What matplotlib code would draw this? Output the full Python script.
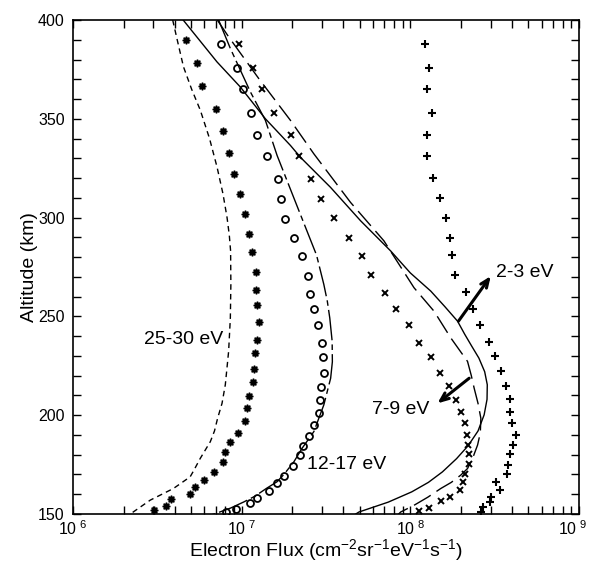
import numpy as np
import matplotlib
matplotlib.use("Agg")
import matplotlib.pyplot as plt
import matplotlib.transforms as mtransforms
from matplotlib.ticker import MultipleLocator, LogLocator, NullFormatter

plt.rcParams['font.family'] = ['Liberation Sans', 'DejaVu Sans']
plt.rcParams['mathtext.fontset'] = 'custom'
plt.rcParams['mathtext.rm'] = 'Liberation Sans'
plt.rcParams['mathtext.default'] = 'regular'

# measured fluxes (symbols)
alt_25_30 = [389.8, 378.2, 366.8, 354.9, 343.8, 332.8, 321.9, 311.7, 301.6, 291.6, 282.7,
             272.6, 263.3, 255.7, 247.4, 238.3, 231.4, 223.3, 216.6, 209.5, 203.5, 197.3,
             191.2, 186.2, 181.4, 176.1, 171.0, 167.1, 163.6, 160.3, 157.5, 154.2, 152.2]
flux_25_30 = [4.69e6, 5.43e6, 5.84e6, 7.01e6, 7.71e6, 8.42e6, 9.01e6, 9.83e6, 1.05e7, 1.11e7, 1.15e7,
              1.22e7, 1.22e7, 1.23e7, 1.26e7, 1.23e7, 1.20e7, 1.19e7, 1.17e7, 1.11e7, 1.08e7, 1.04e7,
              9.47e6, 8.57e6, 8.0e6, 7.79e6, 6.82e6, 5.98e6, 5.31e6, 4.96e6, 3.81e6, 3.58e6, 3.04e6]

alt_12_17 = [388.0, 375.8, 364.9, 353.1, 341.9, 331.0, 319.6, 309.6, 299.4, 289.6, 280.6,
             270.4, 261.4, 253.5, 245.5, 236.5, 229.4, 221.6, 214.5, 207.8, 201.3, 195.2,
             189.5, 184.4, 179.6, 174.2, 169.2, 165.8, 161.7, 158.3, 155.7, 152.7, 150.9]
flux_12_17 = [7.5e6, 9.4e6, 1.02e7, 1.14e7, 1.23e7, 1.42e7, 1.64e7, 1.72e7, 1.80e7, 2.05e7, 2.27e7,
              2.46e7, 2.54e7, 2.68e7, 2.85e7, 2.99e7, 3.03e7, 3.07e7, 2.94e7, 2.92e7, 2.86e7, 2.67e7,
              2.50e7, 2.30e7, 2.22e7, 2.01e7, 1.78e7, 1.63e7, 1.46e7, 1.24e7, 1.12e7, 9.3e6, 8.1e6]

alt_7_9 = [388.0, 375.8, 364.9, 353.1, 341.9, 331.0, 319.6, 309.6, 299.6, 289.6, 280.6,
           270.9, 261.7, 253.5, 245.5, 236.4, 229.4, 221.4, 214.6, 207.6, 201.5, 195.8,
           190.0, 185.1, 180.5, 175.4, 170.3, 166.1, 162.0, 158.6, 156.6, 153.0, 151.7]
flux_7_9 = [9.7e6, 1.17e7, 1.32e7, 1.56e7, 1.95e7, 2.19e7, 2.59e7, 2.96e7, 3.52e7, 4.32e7, 5.14e7,
            5.87e7, 7.05e7, 8.26e7, 9.8e7, 1.12e8, 1.33e8, 1.50e8, 1.69e8, 1.86e8, 2.01e8, 2.12e8,
            2.16e8, 2.21e8, 2.23e8, 2.22e8, 2.11e8, 2.05e8, 1.97e8, 1.71e8, 1.52e8, 1.29e8, 1.13e8]

alt_2_3 = [388.0, 375.8, 365.1, 353.1, 342.0, 331.0, 319.9, 309.8, 299.8, 289.8, 281.0,
           270.9, 262.3, 253.8, 245.7, 237.2, 230.1, 222.4, 214.9, 208.1, 201.7, 195.9,
           190.0, 185.1, 180.3, 174.9, 170.3, 166.4, 162.0, 158.8, 156.3, 153.4, 151.2]
flux_2_3 = [1.22e8, 1.29e8, 1.25e8, 1.35e8, 1.25e8, 1.25e8, 1.37e8, 1.49e8, 1.63e8, 1.73e8, 1.76e8,
            1.85e8, 2.15e8, 2.35e8, 2.60e8, 2.92e8, 3.17e8, 3.44e8, 3.70e8, 3.90e8, 3.92e8, 3.99e8,
            4.23e8, 4.08e8, 3.90e8, 3.81e8, 3.72e8, 3.22e8, 3.38e8, 3.01e8, 2.98e8, 2.70e8, 2.62e8]

# model curves (lines)
m_alt_25_30 = [400, 388, 376.3, 365, 354.3, 340, 325.5, 312, 300.1, 291, 283.1, 266.2, 249.2,
               232.3, 215.4, 206, 198.4, 192, 186.6, 178.1, 172, 168.8, 162.9, 157.0, 149.3, 149]
m_flux_25_30 = [3.9e6, 4.2e6, 4.52e6, 5.05e6, 5.69e6, 6.45e6, 7.15e6, 7.75e6, 8.19e6, 8.45e6, 8.6e6, 8.63e6, 8.57e6,
                8.37e6, 8.0e6, 7.65e6, 7.2e6, 6.9e6, 6.52e6, 5.68e6, 5.2e6, 4.95e6, 3.94e6, 2.87e6, 2.13e6, 2.08e6]

m_alt_12_17 = [400, 385.6, 363.6, 349.2, 331.4, 305, 281, 266.2, 257.7, 249.2, 237.4, 227, 218.7,
               205.2, 191.7, 183.2, 176.4, 170, 166.3, 162.9, 159, 156.1, 153, 150.2, 149]
m_flux_12_17 = [7.3e6, 8.57e6, 1.127e7, 1.383e7, 1.623e7, 2.15e7, 2.78e7, 3.07e7, 3.22e7, 3.33e7, 3.44e7, 3.45e7, 3.37e7,
                3.07e7, 2.68e7, 2.28e7, 2.04e7, 1.78e7, 1.62e7, 1.40e7, 1.2e7, 1.03e7, 8.6e6, 7.0e6, 6.3e6]

m_alt_7_9 = [400, 391.5, 370.4, 349.2, 332.3, 307.7, 288.2, 264.5, 252.6, 239.1, 227.2, 220,
             213.7, 206, 198.4, 191, 184.9, 179, 173.0, 169.7, 166, 162.9, 158.5, 154.4, 151.0, 149]
m_flux_7_9 = [7.17e6, 8.37e6, 1.262e7, 1.947e7, 2.678e7, 4.42e7, 6.98e7, 1.052e8, 1.383e8, 1.738e8, 2.184e8, 2.30e8,
              2.39e8, 2.52e8, 2.62e8, 2.60e8, 2.505e8, 2.36e8, 2.184e8, 1.993e8, 1.75e8, 1.516e8, 1.27e8, 1.052e8, 8.77e7, 8.3e7]

m_alt_2_3 = [400, 378.8, 366.1, 350.0, 336.5, 330.5, 315.3, 298.4, 283.1, 272, 262.8, 255, 247.6,
             241, 235, 228.9, 222, 215.4, 208, 200.2, 192, 184.5, 178, 171.3, 166, 161.2, 156, 151.0, 149]
m_flux_2_3 = [4.5e6, 7.14e6, 9.82e6, 1.383e7, 1.947e7, 2.232e7, 3.365e7, 5.07e7, 7.65e7, 1.0e8, 1.322e8, 1.6e8, 1.905e8,
              2.1e8, 2.31e8, 2.55e8, 2.76e8, 2.86e8, 2.85e8, 2.74e8, 2.52e8, 2.2e8, 1.88e8, 1.55e8, 1.28e8, 1.02e8, 7.4e7, 4.96e7, 4.55e7]

fig = plt.figure(figsize=(5.92, 5.65), dpi=100)
ax = fig.add_axes([0.1233, 0.0903, 0.8547, 0.8743])

# models
ax.plot(m_flux_25_30, m_alt_25_30, color='black', lw=1.0, ls=(0, (4, 3)))
ax.plot(m_flux_12_17, m_alt_12_17, color='black', lw=1.0, ls=(0, (22, 3, 4, 3)))
ax.plot(m_flux_7_9, m_alt_7_9, color='black', lw=1.0, ls=(0, (14, 5)))
ax.plot(m_flux_2_3, m_alt_2_3, color='black', lw=1.0, ls='-')

# data
ax.plot(flux_25_30, alt_25_30, ls='none', marker=(8, 1, 0), ms=5.5, color='black')
ax.plot(flux_12_17, alt_12_17, ls='none', marker='o', ms=5, mfc='none', mec='black', mew=1.3)
ax.plot(flux_7_9, alt_7_9, ls='none', marker='x', ms=5, color='black', mew=1.4)
ax.plot(flux_2_3, alt_2_3, ls='none', marker='+', ms=6, color='black', mew=1.5)

# labels
ax.text(4.5e6, 238.4, '25-30 eV', fontsize=14, ha='center', va='center')
ax.text(4.19e7, 174.9, '12-17 eV', fontsize=14, ha='center', va='center')
ax.text(8.77e7, 202.8, '7-9 eV', fontsize=14, ha='center', va='center')
ax.text(4.79e8, 272.2, '2-3 eV', fontsize=14, ha='center', va='center')
ax.annotate('', xy=(3.0e8, 270.4), xytext=(1.93e8, 247.6),
            arrowprops=dict(arrowstyle='->,head_length=0.6,head_width=0.25', lw=2.2, color='black',
                            shrinkA=0, shrinkB=0))
ax.annotate('', xy=(1.449e8, 206.0), xytext=(2.233e8, 218.7),
            arrowprops=dict(arrowstyle='->,head_length=0.6,head_width=0.25', lw=2.2, color='black',
                            shrinkA=0, shrinkB=0))

ax.set_xscale('log')
ax.set_xlim(1e6, 1e9)
ax.set_ylim(150, 400)
ax.set_xticks([1e6, 1e7, 1e8, 1e9])
ax.set_xticklabels([r'$10^{\ 6}$', r'$10^{\ 7}$', r'$10^{\ 8}$', r'$10^{\ 9}$'])
ax.xaxis.set_minor_locator(LogLocator(base=10, subs=np.arange(2, 10)))
ax.xaxis.set_minor_formatter(NullFormatter())
ax.yaxis.set_major_locator(MultipleLocator(50))
ax.yaxis.set_minor_locator(MultipleLocator(10))
ax.tick_params(axis='both', which='both', direction='in', top=True, right=True, width=1.0)
ax.tick_params(axis='both', which='major', length=6, labelsize=11.5)
ax.tick_params(axis='x', which='major', pad=4)
ax.tick_params(axis='y', which='major', pad=6)
ax.tick_params(axis='both', which='minor', length=6)
for s in ax.spines.values():
    s.set_linewidth(1.2)

# keep the last x tick label inside the figure
last = ax.get_xticklabels()[-1]
last.set_transform(last.get_transform() + mtransforms.ScaledTranslation(-6 / 100, 0, fig.dpi_scale_trans))

ax.set_xlabel(r'Electron Flux (cm$^{-2}$sr$^{-1}$eV$^{-1}$s$^{-1}$)', fontsize=14)
ax.xaxis.set_label_coords(0.5, -0.046)
ax.set_ylabel('Altitude (km)', fontsize=14)
ax.yaxis.set_label_coords(-0.07, 0.5)

fig.savefig('out.png', dpi=100)
